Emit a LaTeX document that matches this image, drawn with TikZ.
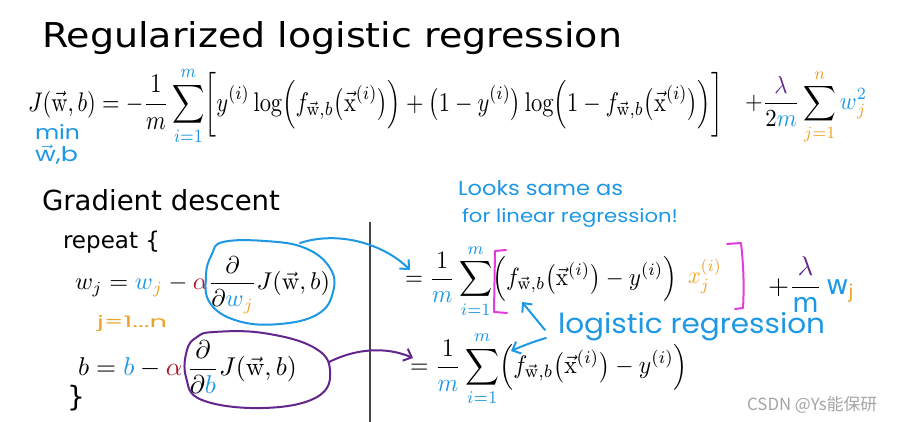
\documentclass[tikz,border=0pt]{standalone}
\usepackage{amsmath}
\usepackage{fontspec}
\usetikzlibrary{arrows.meta}
\setsansfont{DejaVu Sans}
\newfontfamily\handfont{Poppins}
\newfontfamily\wmfont{Noto Sans CJK SC}
\definecolor{cblue}{RGB}{30,152,228}
\definecolor{corange}{RGB}{238,162,40}
\definecolor{cpurple}{RGB}{98,38,140}
\definecolor{cred}{RGB}{172,22,42}
\definecolor{cmag}{RGB}{226,60,222}
\definecolor{cline}{RGB}{70,70,70}
\definecolor{cwm}{RGB}{165,165,165}
\newcommand{\fitm}[3][1]{\scalebox{1}[#1]{\resizebox{#2pt}{!}{$\displaystyle #3$}}}
\newcommand{\fitt}[2]{\resizebox{#1pt}{!}{#2}}
\newcommand{\fith}[3]{\resizebox{#1pt}{#2pt}{#3}}
\newcommand{\vw}{\vec{\mathrm{w}}}
\newcommand{\vx}{\vec{\mathrm{x}}}
\newcommand{\bl}[1]{\textcolor{cblue}{#1}}
\newcommand{\og}[1]{\textcolor{corange}{#1}}
\tikzset{
  eq/.style={inner sep=0pt, outer sep=0pt, anchor=west},
  slide/.style={inner sep=0pt, outer sep=0pt, anchor=base west, font=\sffamily},
  hand/.style={inner sep=0pt, outer sep=0pt, anchor=base west, font=\handfont, text=cblue},
  ink/.style={line width=2pt, line cap=round, line join=round},
  barb/.style={-{Straight Barb[length=7pt,width=13pt,line width=2pt]}}
}
\begin{document}
\begin{tikzpicture}[x=1pt,y=-1pt]
\useasboundingbox[fill=white] (0,0) rectangle (901,422);

\node[slide] (title) at (42,48) {\fith{580}{26}{Regularized logistic regression}};

\node[eq] (f1) at (28,106) {\fitm[1.2]{695}{J(\vw,b)=-\frac{1}{m}\sum_{\bl{i=1}}^{\bl{m}}\biggl[y^{(i)}\log\Bigl(f_{\vw,b}\bigl(\vx^{(i)}\bigr)\Bigr)+\bigl(1-y^{(i)}\bigr)\log\Bigl(1-f_{\vw,b}\bigl(\vx^{(i)}\bigr)\Bigr)\biggr]}};
\node[eq] (f1b) at (745,107) {\fitm[1.08]{122}{+\frac{\textcolor{cpurple}{\lambda}}{2\bl{m}}\sum_{\og{j=1}}^{\og{n}}\bl{w}_{\og{j}}^{\bl{2}}}};

\node[hand] (min) at (35,140) {\fith{45}{15}{min}};
\node[hand] (minwb) at (35,162) {\fith{43}{17}{$\vec{\text{w}}$,b}};

\node[slide] (gd) at (42,210) {\fith{238}{21}{Gradient descent}};
\node[slide] (rep) at (63,248) {\fitt{97}{repeat \{}};

\node[eq] (l1) at (75,285) {\fitm{255}{w_j=\bl{w}_{\og{j}}-\textcolor{cred}{\alpha}\frac{\partial}{\partial\bl{w}_{\og{j}}}J(\vw,b)}};
\node[hand, text=corange] (jn) at (97,327) {\fith{70}{12}{j=1...n}};
\node[eq] (l2) at (78,367) {\fitm{219}{b=\bl{b}-\textcolor{cred}{\alpha}\,\frac{\partial}{\partial\bl{b}}J(\vw,b)}};
\node[slide] (close) at (67,406) {\fontsize{28}{30}\selectfont\}};

\draw[cline, line width=1.6pt] (370,222) -- (370,422);

\node[hand] (looks) at (458,195) {\fith{165}{15}{Looks same as}};
\node[hand] (linear) at (462,222) {\fith{216}{14}{for linear regression!}};

\node[eq] (r1) at (405,281) {\fitm[1.08]{272}{=\frac{1}{\bl{m}}\sum_{\bl{i=1}}^{\bl{m}}\Bigl(f_{\vw,b}\bigl(\vx^{(i)}\bigr)-y^{(i)}\Bigr)}};
\node[eq] (r1x) at (688,276) {\fitm[1.08]{34}{\og{x_j^{(i)}}}};
\node[eq] (r1b) at (768,285) {\fitm{87}{+\frac{\textcolor{cpurple}{\lambda}}{\bl{\mathsf{m}}}\,\bl{\mathsf{w}}_{\og{\mathsf{j}}}}};
\node[eq] (r2) at (410,369) {\fitm[1.08]{278}{=\frac{1}{\bl{m}}\sum_{\bl{i=1}}^{\bl{m}}\Bigl(f_{\vw,b}\bigl(\vx^{(i)}\bigr)-y^{(i)}\Bigr)}};

\node[hand] (logreg) at (558,333) {\fith{267}{21}{logistic regression}};

% magenta brackets
\draw[ink, cmag] (506,250) -- (495,251) -- (494,312) -- (507,313);
\draw[ink, cmag] (727,244) -- (741,243) .. controls (744,270) and (744,290) .. (743,308) -- (735,309);

% ellipses
\draw[ink, cblue] plot[smooth cycle, tension=0.7] coordinates {(223,242) (265,241) (305,248) (330,268) (333,292) (318,314) (280,324) (238,321) (210,303) (206,275) (212,254)};
\draw[ink, cpurple] plot[smooth cycle, tension=0.7] coordinates {(214,332) (263,333) (313,347) (330,370) (317,397) (263,408) (202,400) (186,377) (187,350) (197,337)};

% connectors
\coordinate (bs) at (300,243);
\coordinate (be) at (410,270);
\coordinate (ps) at (329,362);
\coordinate (pe) at (413,358);
\draw[ink, cblue, barb] (bs) .. controls (340,230) and (385,245) .. (be);
\draw[ink, cpurple, barb] (ps) .. controls (355,349) and (385,346) .. (pe);

\coordinate (a1s) at (545,330);
\coordinate (a1e) at (522,302);
\coordinate (a2s) at (546,338);
\coordinate (a2e) at (511,351);
\draw[ink, cblue, barb] (a1s) -- (a1e);
\draw[ink, cblue, barb] (a2s) .. controls (532,342) and (520,347) .. (a2e);

\node[anchor=west, inner sep=0pt, text=cwm] (wm) at (747,405) {\fitt{130}{\wmfont CSDN @Ys能保研}};
\end{tikzpicture}
\end{document}
